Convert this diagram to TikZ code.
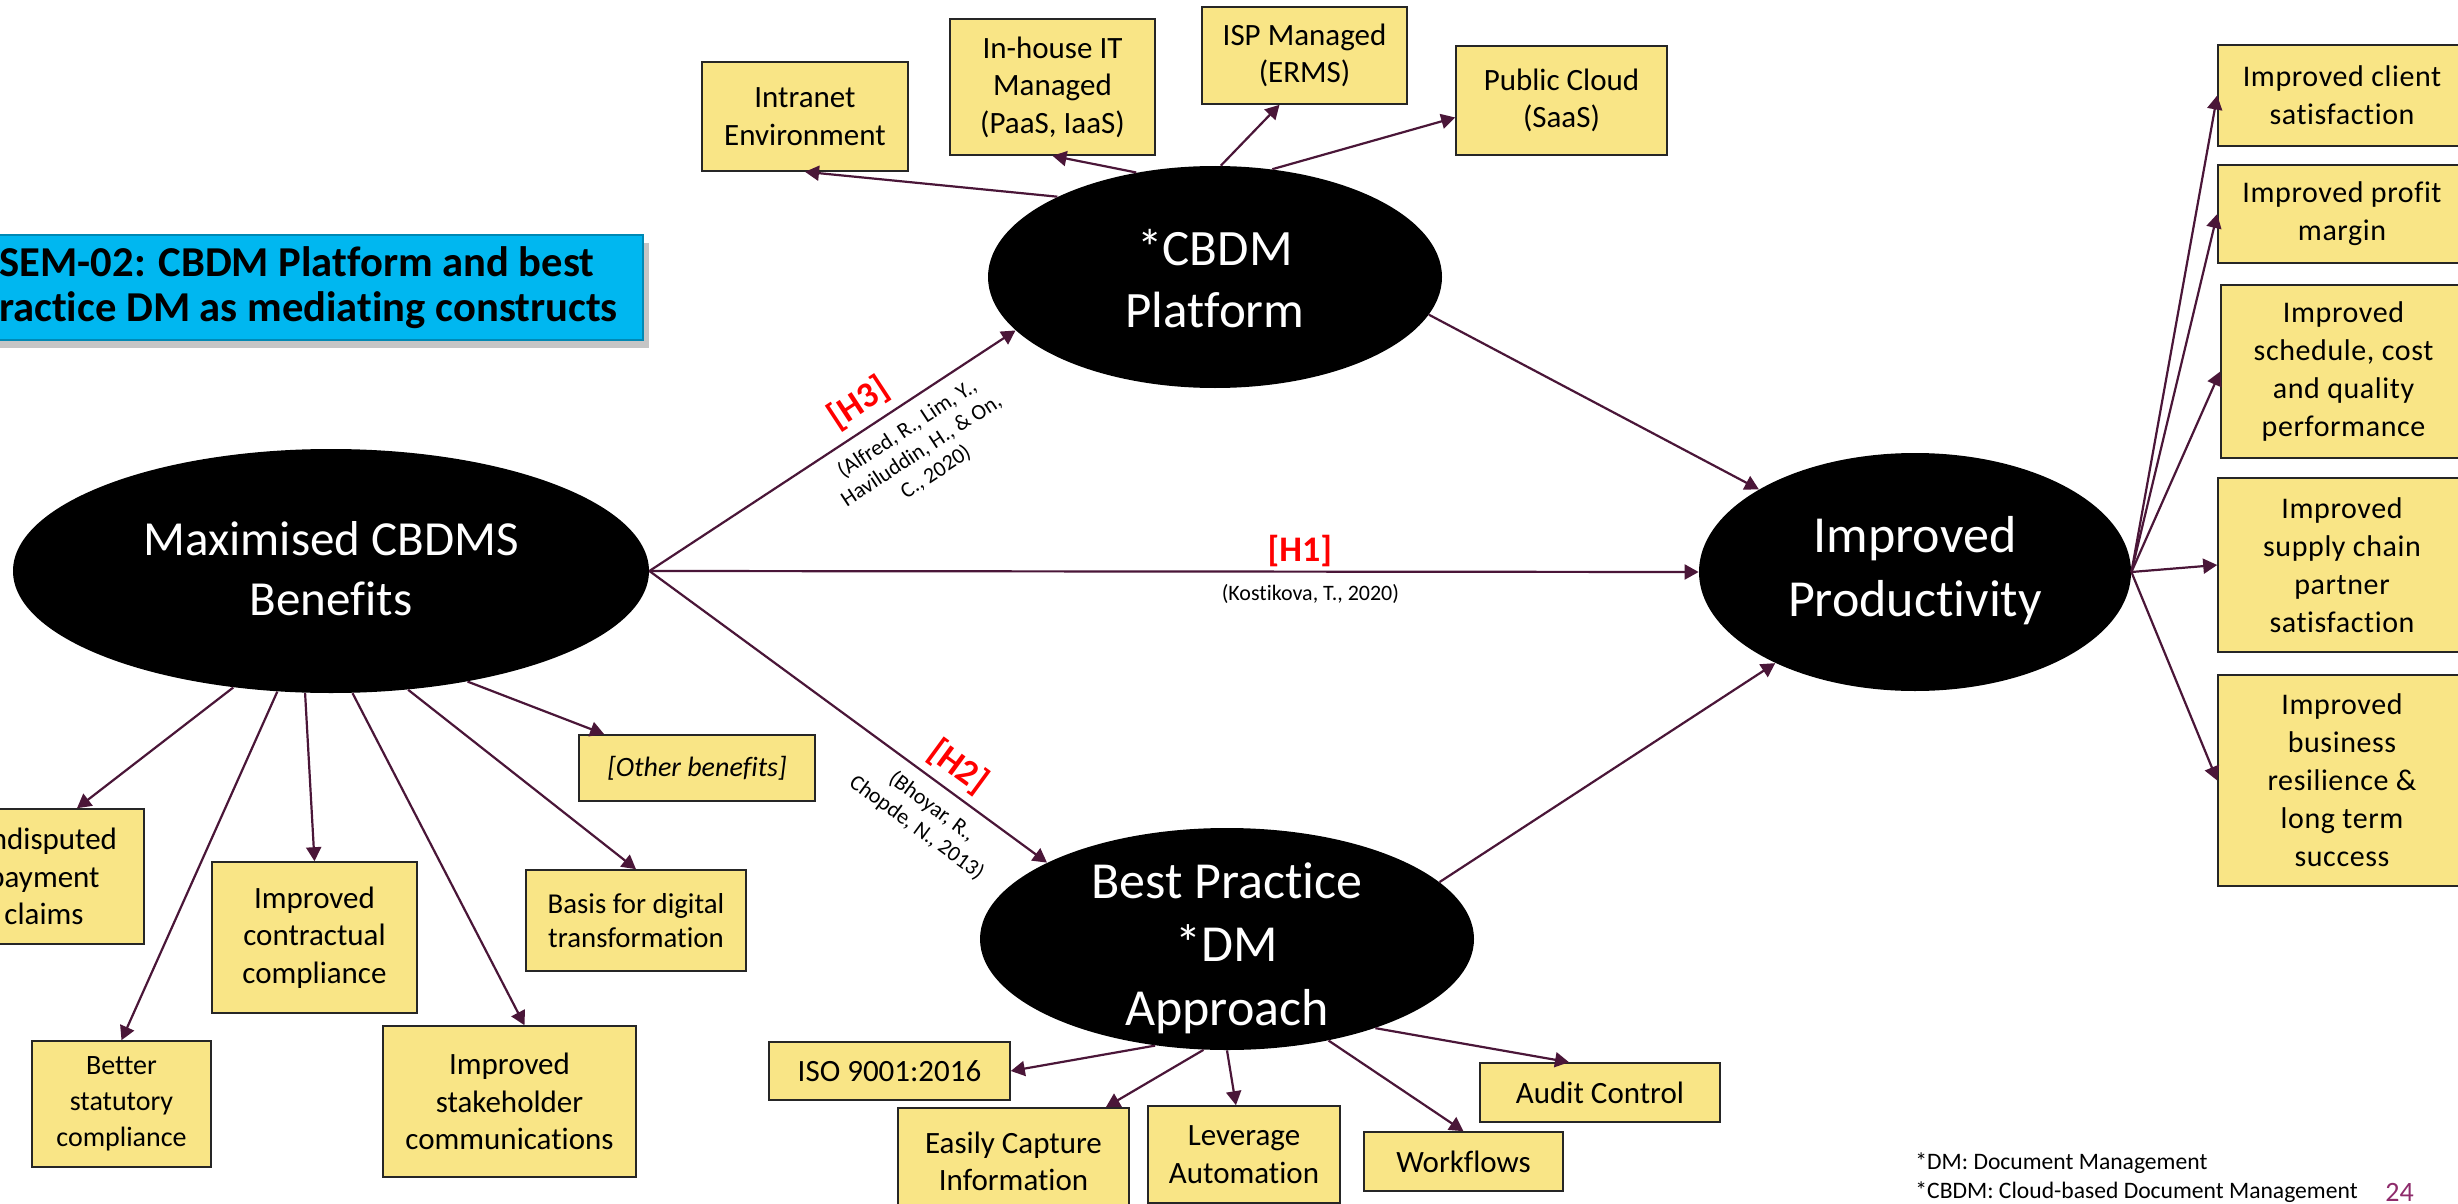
\documentclass[tikz,border=0pt]{standalone}
\usepackage{fontspec}
\setmainfont{Carlito}[Ligatures=NoCommon]
\newfontfamily\widefont[LetterSpace=2,Ligatures=NoCommon]{Carlito}
\usetikzlibrary{arrows.meta,shapes.geometric,calc,shadows}

\definecolor{boxfill}{RGB}{249,229,134}
\definecolor{linkc}{RGB}{74,22,56}
\definecolor{titleblue}{RGB}{0,183,240}
\definecolor{pagenum}{RGB}{142,43,107}

\tikzset{
  ybox/.style={draw=black!85, line width=0.8pt, fill=boxfill, align=center,
    inner sep=0pt, font=\fontsize{15.5}{18.8}\selectfont},
  rbox/.style={ybox, font=\widefont\fontsize{15}{19}\selectfont},
  oval/.style={ellipse, fill=black, inner sep=0pt},
  ovaltext/.style={text=white, align=center, inner sep=0pt},
  link/.style={draw=linkc, line width=1.1pt, -{Triangle[length=7pt,width=7.5pt]}},
  hlabel/.style={text=red, font=\bfseries\fontsize{18}{20}\selectfont, inner sep=1pt},
  cite/.style={align=center, font=\fontsize{11}{13}\selectfont, inner sep=1pt},
}

\begin{document}
\begin{tikzpicture}[x=0.5pt, y=-0.5pt]
\useasboundingbox (0,0) rectangle (2458,1204);
\clip (0,0) rectangle (2458,1204);
\fill[white] (0,0) rectangle (2458,1204);

% title banner
\node[draw=titleblue!75!black, fill=titleblue, line width=0.8pt,
      minimum width=346pt, minimum height=52.5pt, inner sep=0pt,
      drop shadow={shadow xshift=3pt, shadow yshift=-4pt, opacity=0.45},
      align=center, font=\bfseries\fontsize{21.3}{22.7}\selectfont]
      (title) at (297,287.5) {SEM-02: CBDM Platform and best\\practice DM as mediating constructs};

% central constructs
\node[oval, minimum width=318pt, minimum height=122pt] (max) at (331,571) {};
\node[ovaltext, font=\fontsize{24.5}{30}\selectfont] (maxt) at (331,569) {Maximised CBDMS\\Benefits};
\node[oval, minimum width=227pt, minimum height=111pt] (cbdm) at (1215,277) {};
\node[ovaltext, font=\fontsize{25.5}{31}\selectfont] (cbdmt) at (1215,279) {*CBDM\\Platform};
\node[oval, minimum width=216pt, minimum height=119pt] (prod) at (1915,572) {};
\node[ovaltext, font=\fontsize{26}{32}\selectfont] (prodt) at (1915,571) {Improved\\Productivity};
\node[oval, minimum width=247pt, minimum height=111pt] (bp) at (1227,939) {};
\node[ovaltext, font=\fontsize{26}{31.75}\selectfont] (bpt) at (1227,948) {Best Practice\\*DM\\Approach};

% platform options
\node[ybox, minimum width=103pt, minimum height=54.5pt] (intranet) at (805,116.5) {Intranet\\Environment};
\node[ybox, minimum width=102.5pt, minimum height=68pt] (inhouse) at (1052.5,87) {In-house IT\\Managed\\(PaaS, IaaS)};
\node[ybox, minimum width=102.5pt, minimum height=48.5pt] (isp) at (1304.5,55.5) {ISP Managed\\(ERMS)};
\node[ybox, minimum width=105.5pt, minimum height=54.5pt] (public) at (1561.5,100.5) {Public Cloud\\(SaaS)};

% benefits
\node[ybox, minimum width=100pt, minimum height=67.5pt] (undisp) at (44,876.5) {Undisputed\\payment\\claims};
\node[ybox, minimum width=102.5pt, minimum height=75.5pt] (contr) at (314.5,937.5) {Improved\\contractual\\compliance};
\node[ybox, minimum width=89.5pt, minimum height=63pt, font=\fontsize{14}{18}\selectfont] (statut) at (121.5,1104) {Better\\statutory\\compliance};
\node[ybox, minimum width=126.5pt, minimum height=75.5pt] (stake) at (509.5,1101.5) {Improved\\stakeholder\\communications};
\node[ybox, minimum width=110pt, minimum height=50.5pt, font=\fontsize{14.4}{16.7}\selectfont] (basis) at (636,920.5) {Basis for digital\\transformation};
\node[ybox, minimum width=118pt, minimum height=33pt, font=\itshape\fontsize{14}{16}\selectfont] (other) at (697,768) {[Other benefits]};

% best practice elements
\node[ybox, minimum width=120.5pt, minimum height=29pt] (iso) at (889.5,1071) {ISO 9001:2016};
\node[ybox, minimum width=115.5pt, minimum height=53.5pt] (easily) at (1013.5,1161.5) {Easily Capture\\Information};
\node[ybox, minimum width=96pt, minimum height=48.5pt] (lever) at (1244,1154.5) {Leverage\\Automation};
\node[ybox, minimum width=99.5pt, minimum height=29.5pt] (workfl) at (1463.5,1161.5) {Workflows};
\node[ybox, minimum width=120pt, minimum height=29.5pt] (audit) at (1600,1092.5) {Audit Control};

% productivity outcomes
\node[rbox, minimum width=124pt, minimum height=50.5pt] (r1) at (2342,95.5) {Improved client\\satisfaction};
\node[rbox, minimum width=124pt, minimum height=49pt] (r2) at (2342,214) {Improved profit\\margin};
\node[rbox, minimum width=122.5pt, minimum height=86.5pt] (r3) at (2343.5,371.5) {Improved\\schedule, cost\\and quality\\performance};
\node[rbox, minimum width=124pt, minimum height=87pt] (r4) at (2342,565) {Improved\\supply chain\\partner\\satisfaction};
\node[rbox, minimum width=124pt, minimum height=105.5pt] (r5) at (2342,780.5) {Improved\\business\\resilience \&\\long term\\success};

% platform links
\draw[link] (cbdm.153.7) -- (intranet.south);
\draw[link] (cbdm.127.6) -- (inhouse.south);
\draw[link] (cbdm.87.9) -- ($(isp.south)+(-25,0)$);
\draw[link] (cbdm.62.8) -- ($(public.west)+(0,17)$);

% benefit links
\draw[link] (max.230.7) -- ($(undisp.north)+(33,0)$);
\draw[link] (max.246.5) -- (statut.north);
\draw[link] (max.258.6) -- (contr.north);
\draw[link] (max.280.9) -- ($(stake.north)+(15,0)$);
\draw[link] (max.303.7) -- (basis.north);
\draw[link] (max.321.2) -- ($(other.north west)+(26,0)$);

% hypotheses
\draw[link] (max.east) --
  node[hlabel, sloped, above=3pt, pos=0.61] (h3) {[H3]}
  node[cite, sloped, below=5pt, pos=0.67] (c3) {(Alfred, R., Lim, Y.,\\Haviluddin, H., \& On,\\C., 2020)}
  (cbdm.195.6);
\draw[link] (max.east) --
  node[hlabel, above=1pt, pos=0.62] (h1) {[H1]}
  node[cite, below=5pt, pos=0.63] (c1) {(Kostikova, T., 2020)}
  (prod.west);
\draw[link] (max.east) --
  node[hlabel, sloped, above=3pt, pos=0.74] (h2) {[H2]}
  node[cite, sloped, below=5pt, pos=0.745] (c2) {(Bhoyar, R.,\\Chopde, N., 2013)}
  (bp.157);
\draw[link] (cbdm.350) -- (prod);
\draw[link] (bp.15.6) -- (prod);

% approach elements
\draw[link] (bp.236) -- (iso.east);
\draw[link] (bp.258) -- (easily);
\draw[link] (bp.270) -- (lever);
\draw[link] (bp.315) -- (workfl.north);
\draw[link] (bp.329.4) -- ($(audit.north)+(-31,0)$);

% outcomes
\draw[link] (prod.east) -- (r1.west);
\draw[link] (prod.east) -- (r2.west);
\draw[link] (prod.east) -- (r3.west);
\draw[link] (prod.east) -- (r4.west);
\draw[link] (prod.east) -- (r5.west);

% footnotes
\node[anchor=west, align=left, inner sep=0pt, font=\fontsize{11.8}{14.5}\selectfont] (foot) at (1915,1178) {*DM: Document Management\\*CBDM: Cloud-based Document Management};
\node[anchor=west, inner sep=0pt, text=pagenum, font=\fontsize{14}{14}\selectfont] (pnum) at (2385,1192) {24};
\end{tikzpicture}
\end{document}
